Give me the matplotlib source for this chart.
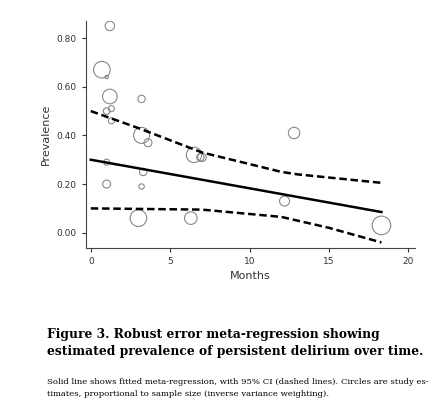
import matplotlib
matplotlib.use("Agg")
import matplotlib.pyplot as plt
import numpy as np

months = [0.7, 1.0, 1.2, 1.2, 1.0, 1.3, 1.3, 1.0, 1.0, 3.2, 3.2, 3.6, 3.3, 3.2, 3.0, 6.5, 6.9, 7.0, 6.3, 12.2, 12.8, 18.3]
prev   = [0.67, 0.64, 0.85, 0.56, 0.50, 0.51, 0.46, 0.29, 0.20, 0.55, 0.40, 0.37, 0.25, 0.19, 0.06, 0.32, 0.31, 0.31, 0.06, 0.13, 0.41, 0.03]
radius = [8.3, 1.7, 4.7, 7.3, 3.3, 3.0, 3.0, 3.0, 4.0, 3.7, 8.0, 4.0, 3.7, 2.7, 8.3, 7.7, 3.7, 4.3, 6.3, 5.0, 5.7, 9.3]
fit_x = [0, 18.3]
fit_y = [0.30, 0.085]
ci_x = [0, 3, 7, 12, 13, 18.3]
ci_up = [0.50, 0.43, 0.33, 0.25, 0.24, 0.205]
ci_lo_x = [0, 7, 12, 15, 18.3]
ci_lo = [0.10, 0.095, 0.065, 0.02, -0.04]

fig = plt.figure(figsize=(4.38, 4.13), dpi=100)
ax = fig.add_axes([0.196, 0.40, 0.751, 0.549])
s = [(2 * r * 0.72) ** 2 for r in radius]
ax.scatter(months, prev, s=s, facecolors='none', edgecolors='#888888', linewidths=0.8)
ax.plot(fit_x, fit_y, color='black', lw=1.8)
ax.plot(ci_x, ci_up, color='black', lw=1.8, ls=(0, (3, 1.5)))
ax.plot(ci_lo_x, ci_lo, color='black', lw=1.8, ls=(0, (3, 1.5)))
ax.set_xlim(-0.31, 20.4)
ax.set_ylim(-0.062, 0.87)
ax.set_xticks([0, 5, 10, 15, 20])
ax.set_yticks([0, 0.2, 0.4, 0.6, 0.8])
ax.set_yticklabels(['0.00', '0.20', '0.40', '0.60', '0.80'])
for sp in ['top', 'right']:
    ax.spines[sp].set_visible(False)
for sp in ['left', 'bottom']:
    ax.spines[sp].set_color('#444444')
ax.tick_params(labelsize=6.5, colors='#333333', length=3)
ax.set_xlabel('Months', fontsize=8, color='#333333')
ax.set_ylabel('Prevalence', fontsize=8, color='#333333')

fig.text(47/438, 1 - 343/413, 'Figure 3. Robust error meta-regression showing\nestimated prevalence of persistent delirium over time.',
         fontsize=8.8, fontweight='bold', family='DejaVu Serif', va='center', linespacing=1.45)
fig.text(47/438, 1 - 388/413, 'Solid line shows fitted meta-regression, with 95% CI (dashed lines). Circles are study es-\ntimates, proportional to sample size (inverse variance weighting).',
         fontsize=6.1, family='DejaVu Serif', va='center', linespacing=1.5)
fig.savefig('out.png', dpi=100)
